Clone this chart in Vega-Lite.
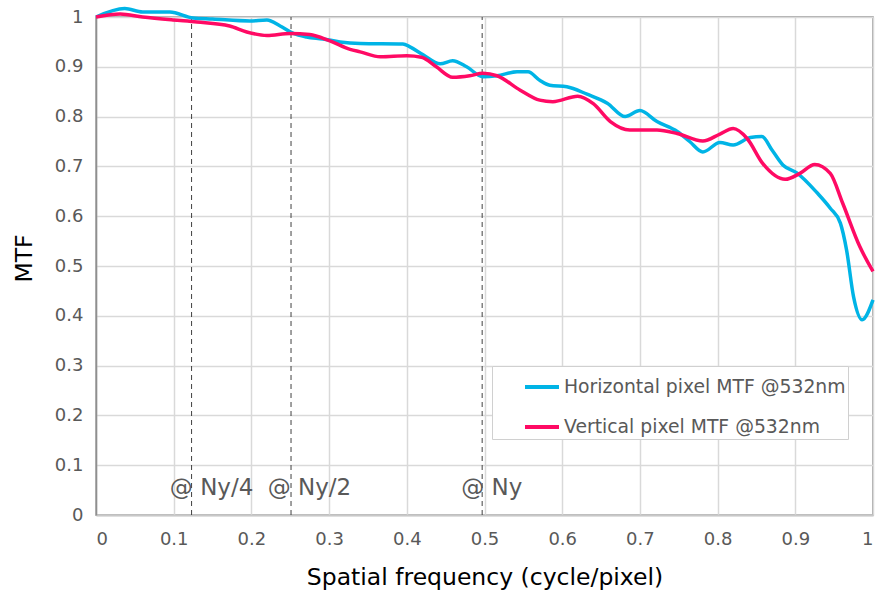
{
  "$schema": "https://vega.github.io/schema/vega-lite/v6.json",
  "width": 777,
  "height": 498,
  "autosize": {"type": "none"},
  "padding": {"left": 96, "top": 17, "right": 5, "bottom": 77},
  "background": "white",
  "config": {
    "font": "DejaVu Sans",
    "view": {"stroke": "#8f8f8f", "strokeWidth": 1.5},
    "axis": {
      "labelFont": "DejaVu Sans",
      "labelFontSize": 18,
      "labelColor": "#595959",
      "titleFont": "DejaVu Sans",
      "titleFontSize": 23.5,
      "titleFontWeight": "normal",
      "titleColor": "#000000",
      "grid": true,
      "gridColor": "#d9d9d9",
      "gridWidth": 1.5,
      "ticks": false
    }
  },
  "datasets": {
    "mtf": [
      {"series": "Horizontal pixel MTF @532nm", "f": 0, "mtf": 1.0},
      {"series": "Horizontal pixel MTF @532nm", "f": 0.037, "mtf": 1.017},
      {"series": "Horizontal pixel MTF @532nm", "f": 0.06, "mtf": 1.01},
      {"series": "Horizontal pixel MTF @532nm", "f": 0.095, "mtf": 1.01},
      {"series": "Horizontal pixel MTF @532nm", "f": 0.125, "mtf": 0.998},
      {"series": "Horizontal pixel MTF @532nm", "f": 0.15, "mtf": 0.996},
      {"series": "Horizontal pixel MTF @532nm", "f": 0.198, "mtf": 0.992},
      {"series": "Horizontal pixel MTF @532nm", "f": 0.22, "mtf": 0.994},
      {"series": "Horizontal pixel MTF @532nm", "f": 0.237, "mtf": 0.982},
      {"series": "Horizontal pixel MTF @532nm", "f": 0.254, "mtf": 0.967},
      {"series": "Horizontal pixel MTF @532nm", "f": 0.271, "mtf": 0.96},
      {"series": "Horizontal pixel MTF @532nm", "f": 0.292, "mtf": 0.956},
      {"series": "Horizontal pixel MTF @532nm", "f": 0.314, "mtf": 0.95},
      {"series": "Horizontal pixel MTF @532nm", "f": 0.34, "mtf": 0.947},
      {"series": "Horizontal pixel MTF @532nm", "f": 0.395, "mtf": 0.946},
      {"series": "Horizontal pixel MTF @532nm", "f": 0.404, "mtf": 0.94},
      {"series": "Horizontal pixel MTF @532nm", "f": 0.421, "mtf": 0.924},
      {"series": "Horizontal pixel MTF @532nm", "f": 0.443, "mtf": 0.906},
      {"series": "Horizontal pixel MTF @532nm", "f": 0.459, "mtf": 0.912},
      {"series": "Horizontal pixel MTF @532nm", "f": 0.477, "mtf": 0.9},
      {"series": "Horizontal pixel MTF @532nm", "f": 0.498, "mtf": 0.88},
      {"series": "Horizontal pixel MTF @532nm", "f": 0.516, "mtf": 0.882},
      {"series": "Horizontal pixel MTF @532nm", "f": 0.542, "mtf": 0.89},
      {"series": "Horizontal pixel MTF @532nm", "f": 0.556, "mtf": 0.89},
      {"series": "Horizontal pixel MTF @532nm", "f": 0.571, "mtf": 0.873},
      {"series": "Horizontal pixel MTF @532nm", "f": 0.584, "mtf": 0.863},
      {"series": "Horizontal pixel MTF @532nm", "f": 0.606, "mtf": 0.86},
      {"series": "Horizontal pixel MTF @532nm", "f": 0.632, "mtf": 0.845},
      {"series": "Horizontal pixel MTF @532nm", "f": 0.658, "mtf": 0.827},
      {"series": "Horizontal pixel MTF @532nm", "f": 0.681, "mtf": 0.8},
      {"series": "Horizontal pixel MTF @532nm", "f": 0.7, "mtf": 0.812},
      {"series": "Horizontal pixel MTF @532nm", "f": 0.722, "mtf": 0.79},
      {"series": "Horizontal pixel MTF @532nm", "f": 0.748, "mtf": 0.77},
      {"series": "Horizontal pixel MTF @532nm", "f": 0.764, "mtf": 0.75},
      {"series": "Horizontal pixel MTF @532nm", "f": 0.781, "mtf": 0.729},
      {"series": "Horizontal pixel MTF @532nm", "f": 0.803, "mtf": 0.748},
      {"series": "Horizontal pixel MTF @532nm", "f": 0.82, "mtf": 0.743},
      {"series": "Horizontal pixel MTF @532nm", "f": 0.842, "mtf": 0.758},
      {"series": "Horizontal pixel MTF @532nm", "f": 0.857, "mtf": 0.76},
      {"series": "Horizontal pixel MTF @532nm", "f": 0.87, "mtf": 0.733},
      {"series": "Horizontal pixel MTF @532nm", "f": 0.884, "mtf": 0.703},
      {"series": "Horizontal pixel MTF @532nm", "f": 0.902, "mtf": 0.687},
      {"series": "Horizontal pixel MTF @532nm", "f": 0.928, "mtf": 0.647},
      {"series": "Horizontal pixel MTF @532nm", "f": 0.945, "mtf": 0.616},
      {"series": "Horizontal pixel MTF @532nm", "f": 0.958, "mtf": 0.586},
      {"series": "Horizontal pixel MTF @532nm", "f": 0.966, "mtf": 0.532},
      {"series": "Horizontal pixel MTF @532nm", "f": 0.975, "mtf": 0.438},
      {"series": "Horizontal pixel MTF @532nm", "f": 0.986, "mtf": 0.392},
      {"series": "Horizontal pixel MTF @532nm", "f": 1.0, "mtf": 0.432},
      {"series": "Vertical pixel MTF @532nm", "f": 0, "mtf": 1.0},
      {"series": "Vertical pixel MTF @532nm", "f": 0.031, "mtf": 1.006},
      {"series": "Vertical pixel MTF @532nm", "f": 0.06, "mtf": 1.0},
      {"series": "Vertical pixel MTF @532nm", "f": 0.099, "mtf": 0.994},
      {"series": "Vertical pixel MTF @532nm", "f": 0.13, "mtf": 0.99},
      {"series": "Vertical pixel MTF @532nm", "f": 0.172, "mtf": 0.982},
      {"series": "Vertical pixel MTF @532nm", "f": 0.194, "mtf": 0.97},
      {"series": "Vertical pixel MTF @532nm", "f": 0.22, "mtf": 0.963},
      {"series": "Vertical pixel MTF @532nm", "f": 0.25, "mtf": 0.967},
      {"series": "Vertical pixel MTF @532nm", "f": 0.275, "mtf": 0.965},
      {"series": "Vertical pixel MTF @532nm", "f": 0.301, "mtf": 0.952},
      {"series": "Vertical pixel MTF @532nm", "f": 0.327, "mtf": 0.935},
      {"series": "Vertical pixel MTF @532nm", "f": 0.34, "mtf": 0.93},
      {"series": "Vertical pixel MTF @532nm", "f": 0.366, "mtf": 0.92},
      {"series": "Vertical pixel MTF @532nm", "f": 0.4, "mtf": 0.922},
      {"series": "Vertical pixel MTF @532nm", "f": 0.419, "mtf": 0.919},
      {"series": "Vertical pixel MTF @532nm", "f": 0.438, "mtf": 0.9},
      {"series": "Vertical pixel MTF @532nm", "f": 0.459, "mtf": 0.879},
      {"series": "Vertical pixel MTF @532nm", "f": 0.481, "mtf": 0.882},
      {"series": "Vertical pixel MTF @532nm", "f": 0.498, "mtf": 0.887},
      {"series": "Vertical pixel MTF @532nm", "f": 0.516, "mtf": 0.882},
      {"series": "Vertical pixel MTF @532nm", "f": 0.546, "mtf": 0.853},
      {"series": "Vertical pixel MTF @532nm", "f": 0.571, "mtf": 0.833},
      {"series": "Vertical pixel MTF @532nm", "f": 0.588, "mtf": 0.83},
      {"series": "Vertical pixel MTF @532nm", "f": 0.62, "mtf": 0.841},
      {"series": "Vertical pixel MTF @532nm", "f": 0.64, "mtf": 0.826},
      {"series": "Vertical pixel MTF @532nm", "f": 0.662, "mtf": 0.79},
      {"series": "Vertical pixel MTF @532nm", "f": 0.687, "mtf": 0.773},
      {"series": "Vertical pixel MTF @532nm", "f": 0.722, "mtf": 0.773},
      {"series": "Vertical pixel MTF @532nm", "f": 0.748, "mtf": 0.766},
      {"series": "Vertical pixel MTF @532nm", "f": 0.781, "mtf": 0.751},
      {"series": "Vertical pixel MTF @532nm", "f": 0.803, "mtf": 0.765},
      {"series": "Vertical pixel MTF @532nm", "f": 0.82, "mtf": 0.776},
      {"series": "Vertical pixel MTF @532nm", "f": 0.838, "mtf": 0.756},
      {"series": "Vertical pixel MTF @532nm", "f": 0.858, "mtf": 0.706},
      {"series": "Vertical pixel MTF @532nm", "f": 0.887, "mtf": 0.674},
      {"series": "Vertical pixel MTF @532nm", "f": 0.906, "mtf": 0.686},
      {"series": "Vertical pixel MTF @532nm", "f": 0.925, "mtf": 0.704},
      {"series": "Vertical pixel MTF @532nm", "f": 0.945, "mtf": 0.686},
      {"series": "Vertical pixel MTF @532nm", "f": 0.961, "mtf": 0.626},
      {"series": "Vertical pixel MTF @532nm", "f": 0.983, "mtf": 0.539},
      {"series": "Vertical pixel MTF @532nm", "f": 1.0, "mtf": 0.489}
    ],
    "marks": [
      {"f": 0.123, "label": "@ Ny/4", "lx": 0.095, "ly": 0.04},
      {"f": 0.251, "label": "@ Ny/2", "lx": 0.221, "ly": 0.04},
      {"f": 0.497, "label": "@ Ny", "lx": 0.47, "ly": 0.04}
    ]
  },
  "layer": [
    {
      "data": {"name": "marks"},
      "mark": {"type": "rule", "color": "#404040", "strokeWidth": 1, "strokeDash": [5, 4]},
      "encoding": {
        "x": {
          "field": "f", "type": "quantitative",
          "scale": {"domain": [0, 1], "nice": false},
          "axis": {
            "values": [0, 0.1, 0.2, 0.3, 0.4, 0.5, 0.6, 0.7, 0.8, 0.9, 1],
            "format": "~g",
            "title": "Spatial frequency (cycle/pixel)",
            "grid": true,
            "labelPadding": 15,
            "domainColor": "#c8c8c8",
            "domainWidth": 2,
            "titleY": 62,
            "titleBaseline": "middle"
          }
        },
        "y": {
          "datum": 0, "type": "quantitative",
          "scale": {"domain": [0, 1], "nice": false},
          "axis": {
            "values": [0, 0.1, 0.2, 0.3, 0.4, 0.5, 0.6, 0.7, 0.8, 0.9, 1],
            "format": "~g",
            "title": "MTF",
            "grid": true,
            "labelPadding": 13,
            "domainColor": "#8f8f8f",
            "domainWidth": 1.5,
            "titleX": -72,
            "titleY": 241,
            "titleAngle": -90,
            "titleAlign": "center",
            "titleBaseline": "middle"
          }
        },
        "y2": {"datum": 1}
      }
    },
    {
      "data": {"name": "marks"},
      "mark": {"type": "text", "align": "left", "baseline": "alphabetic", "fontSize": 23, "color": "#595959", "font": "DejaVu Sans"},
      "encoding": {
        "x": {"field": "lx", "type": "quantitative"},
        "y": {"field": "ly", "type": "quantitative"},
        "text": {"field": "label"}
      }
    },
    {
      "data": {"name": "mtf"},
      "mark": {"type": "line", "strokeWidth": 3.5, "interpolate": "monotone"},
      "encoding": {
        "x": {"field": "f", "type": "quantitative"},
        "y": {"field": "mtf", "type": "quantitative"},
        "color": {
          "field": "series", "type": "nominal",
          "scale": {
            "domain": ["Horizontal pixel MTF @532nm", "Vertical pixel MTF @532nm"],
            "range": ["#00b4e6", "#ff0a64"]
          },
          "legend": {
            "title": null,
            "orient": "none",
            "legendX": 396,
            "legendY": 349,
            "symbolType": "stroke",
            "symbolSize": 1156,
            "symbolStrokeWidth": 4,
            "symbolOffset": 29,
            "labelFont": "DejaVu Sans",
            "labelFontSize": 18.8,
            "labelColor": "#595959",
            "labelOffset": 3,
            "labelLimit": 400,
            "rowPadding": 11,
            "padding": 2,
            "strokeColor": "#d0d0d0",
            "fillColor": "white"
          }
        }
      }
    }
  ]
}
